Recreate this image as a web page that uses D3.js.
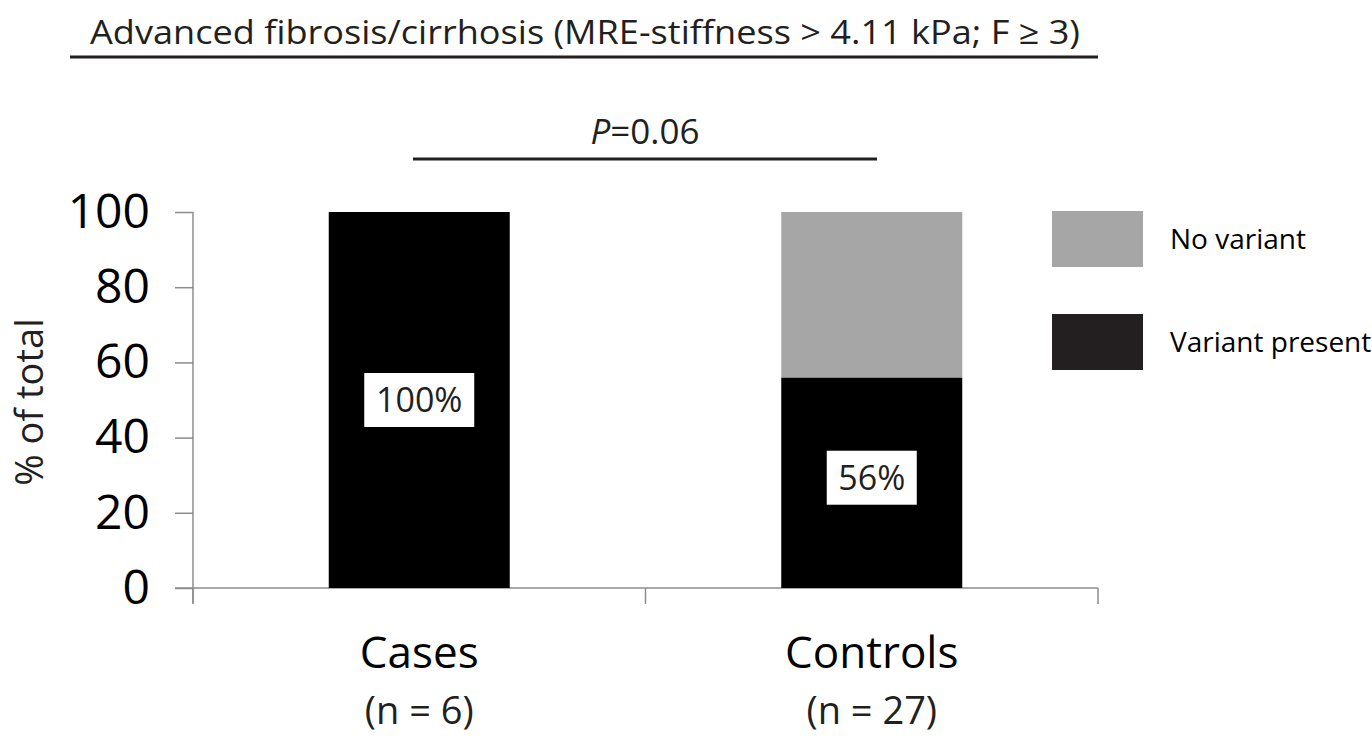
<!DOCTYPE html>
<html>
<head>
<meta charset="utf-8">
<script src="https://cdn.jsdelivr.net/npm/d3@7"></script>
<style>
  body { margin: 0; background: #fff; }
  text { font-family: "Open Sans", "Noto Sans", sans-serif; }
</style>
</head>
<body>
<div id="vis"></div>
<script>
var groups = ["Cases", "Controls"],
    groupN = ["(n = 6)", "(n = 27)"],
    variantPresent = [100, 56],
    noVariant = [0, 44],
    yTicks = [0, 20, 40, 60, 80, 100],
    seriesNames = ["No variant", "Variant present"],
    seriesColors = ["#a6a6a6", "#231f20"];

var width = 1372,
    height = 738;

var svg = d3.select("#vis").append("svg")
    .attr("width", width)
    .attr("height", height);

var x = d3.scaleBand().domain(groups).range([193, 1098]).padding(0);
var y = d3.scaleLinear().domain([0, 100]).range([588, 212]);
var barW = x.bandwidth() * 0.4;

// title + underline
svg.append("text")
    .attr("x", 90).attr("y", 44)
    .attr("font-size", 33)
    .attr("textLength", 990)
    .attr("lengthAdjust", "spacingAndGlyphs")
    .attr("fill", "#231f20")
    .text("Advanced fibrosis/cirrhosis (MRE-stiffness > 4.11 kPa; F \u2265 3)");
svg.append("line")
    .attr("x1", 70).attr("x2", 1098).attr("y1", 57).attr("y2", 57)
    .attr("stroke", "#231f20").attr("stroke-width", 3);

// p value bracket
var pt = svg.append("text")
    .attr("x", 645).attr("y", 144)
    .attr("text-anchor", "middle")
    .attr("font-size", 35)
    .attr("fill", "#231f20");
pt.append("tspan").attr("font-style", "italic").text("P");
pt.append("tspan").text("=0.06");
svg.append("line")
    .attr("x1", 413).attr("x2", 877).attr("y1", 159).attr("y2", 159)
    .attr("stroke", "#231f20").attr("stroke-width", 3);

// y axis
var yAxis = svg.append("g")
    .attr("transform", "translate(193,0)")
    .call(d3.axisLeft(y).tickValues(yTicks).tickSize(18).tickPadding(23));
yAxis.select(".domain").attr("stroke", "#8c8c8c").attr("stroke-width", 1.5)
    .attr("d", "M0," + y(100) + "V" + (y(0) + 15));
yAxis.selectAll(".tick line").attr("stroke", "#8c8c8c").attr("stroke-width", 1.5);
yAxis.selectAll(".tick text").attr("font-size", 48).attr("fill", "#000")
    .attr("font-family", "Open Sans, sans-serif").attr("dx", -2);

// x axis
svg.append("line")
    .attr("x1", 175).attr("x2", 1098).attr("y1", y(0)).attr("y2", y(0))
    .attr("stroke", "#8c8c8c").attr("stroke-width", 1.5);
var xTicks = [x.range()[0], x(groups[1]), x.range()[1]];
svg.selectAll(".xtick").data(xTicks).enter().append("line")
    .attr("x1", function(d){return d}).attr("x2", function(d){return d})
    .attr("y1", y(0)).attr("y2", y(0) + 16)
    .attr("stroke", "#8c8c8c").attr("stroke-width", 1.5);

svg.append("text")
    .attr("transform", "translate(43,402) rotate(-90)")
    .attr("text-anchor", "middle")
    .attr("font-size", 38)
    .attr("fill", "#231f20")
    .text("% of total");

// bars
var barX = function(d, i){ return x(groups[i]) + (x.bandwidth() - barW) / 2; };
svg.selectAll(".vp").data(variantPresent).enter().append("rect")
    .attr("x", barX)
    .attr("y", function(d){return y(d)})
    .attr("width", barW)
    .attr("height", function(d){return y(0) - y(d)})
    .attr("fill", "#000");
svg.selectAll(".nv").data(noVariant).enter().append("rect")
    .attr("x", barX)
    .attr("y", function(d, i){return y(variantPresent[i] + d)})
    .attr("width", barW)
    .attr("height", function(d){return y(0) - y(d)})
    .attr("fill", seriesColors[0]);

// value labels in white boxes
var lab = svg.selectAll(".lab").data(variantPresent).enter().append("g")
    .attr("transform", function(d, i){
        return "translate(" + (x(groups[i]) + x.bandwidth() / 2) + "," + (y(d / 2) - (d < 100 ? 5 : 0)) + ")";
    });
lab.append("rect")
    .attr("x", function(d){return d === 100 ? -55 : -45})
    .attr("y", -27)
    .attr("width", function(d){return d === 100 ? 110 : 90})
    .attr("height", 54)
    .attr("fill", "#fff");
lab.append("text")
    .attr("text-anchor", "middle")
    .attr("dy", "0.36em")
    .attr("font-size", 34)
    .attr("fill", "#231f20")
    .text(function(d){return d + "%"});

// category labels
svg.selectAll(".cat").data(groups).enter().append("text")
    .attr("x", function(d){return x(d) + x.bandwidth() / 2})
    .attr("y", 668)
    .attr("text-anchor", "middle")
    .attr("font-size", 44)
    .attr("fill", "#000")
    .text(function(d){return d});
svg.selectAll(".catn").data(groupN).enter().append("text")
    .attr("x", function(d, i){return x(groups[i]) + x.bandwidth() / 2})
    .attr("y", 724)
    .attr("text-anchor", "middle")
    .attr("font-size", 38)
    .attr("fill", "#231f20")
    .text(function(d){return d});

// legend
var leg = svg.selectAll(".leg").data(seriesNames).enter().append("g")
    .attr("transform", function(d, i){return "translate(1052," + (211 + i * 103) + ")"});
leg.append("rect")
    .attr("width", 91).attr("height", 56)
    .attr("fill", function(d, i){return seriesColors[i]});
leg.append("text")
    .attr("x", 118).attr("y", 28).attr("dy", "0.36em")
    .attr("font-size", 28)
    .attr("fill", "#000")
    .text(function(d){return d});
</script>
</body>
</html>
